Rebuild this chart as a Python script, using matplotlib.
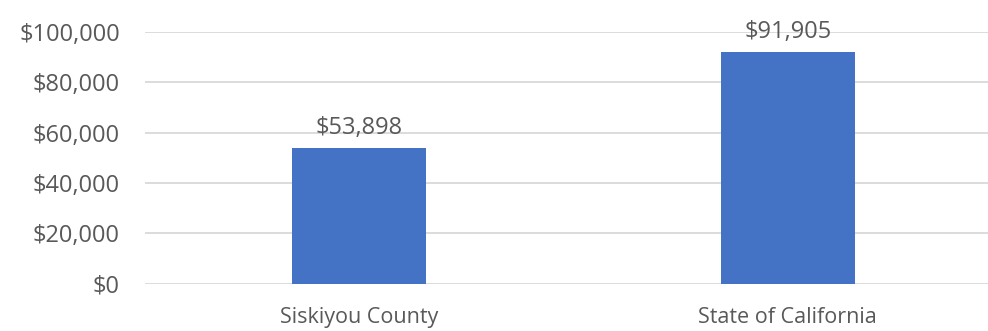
import matplotlib.pyplot as plt
import numpy as np

# Median household income
categories = ['Siskiyou County', 'State of California']
values = [53898, 91905]
yticks = [0, 20000, 40000, 60000, 80000, 100000]

bar_color = '#4472C4'
text_color = '#595959'
grid_color = '#D9D9D9'

plt.rcParams['font.family'] = ['Open Sans', 'DejaVu Sans']

fig = plt.figure(figsize=(9.88, 3.31), dpi=100)
ax = fig.add_axes([145 / 988, 1 - 283.5 / 331, 857 / 988, 251.5 / 331])

x = np.arange(len(categories))
bars = ax.bar(x, values, width=0.313, color=bar_color, zorder=3)

ax.set_xlim(-0.5, len(categories) - 0.5)
ax.set_ylim(0, 100000)
ax.set_yticks(yticks)
ax.set_yticklabels([f'${v:,.0f}' for v in yticks])
ax.set_xticks(x)
ax.set_xticklabels(categories)

ax.grid(axis='y', color=grid_color, linewidth=1.3, zorder=0)
for s in ax.spines.values():
    s.set_visible(False)
ax.tick_params(axis='both', length=0, colors=text_color)
ax.tick_params(axis='y', pad=18, labelsize=17)
ax.tick_params(axis='x', pad=17, labelsize=15.5)

# value labels above bars
for b, v in zip(bars, values):
    ax.annotate(f'${v:,.0f}', (b.get_x() + b.get_width() / 2, v),
                xytext=(0, 6), textcoords='offset points',
                ha='center', va='bottom', fontsize=17, color=text_color,
                annotation_clip=False)

fig.savefig('out.png', dpi=100, facecolor='white')
